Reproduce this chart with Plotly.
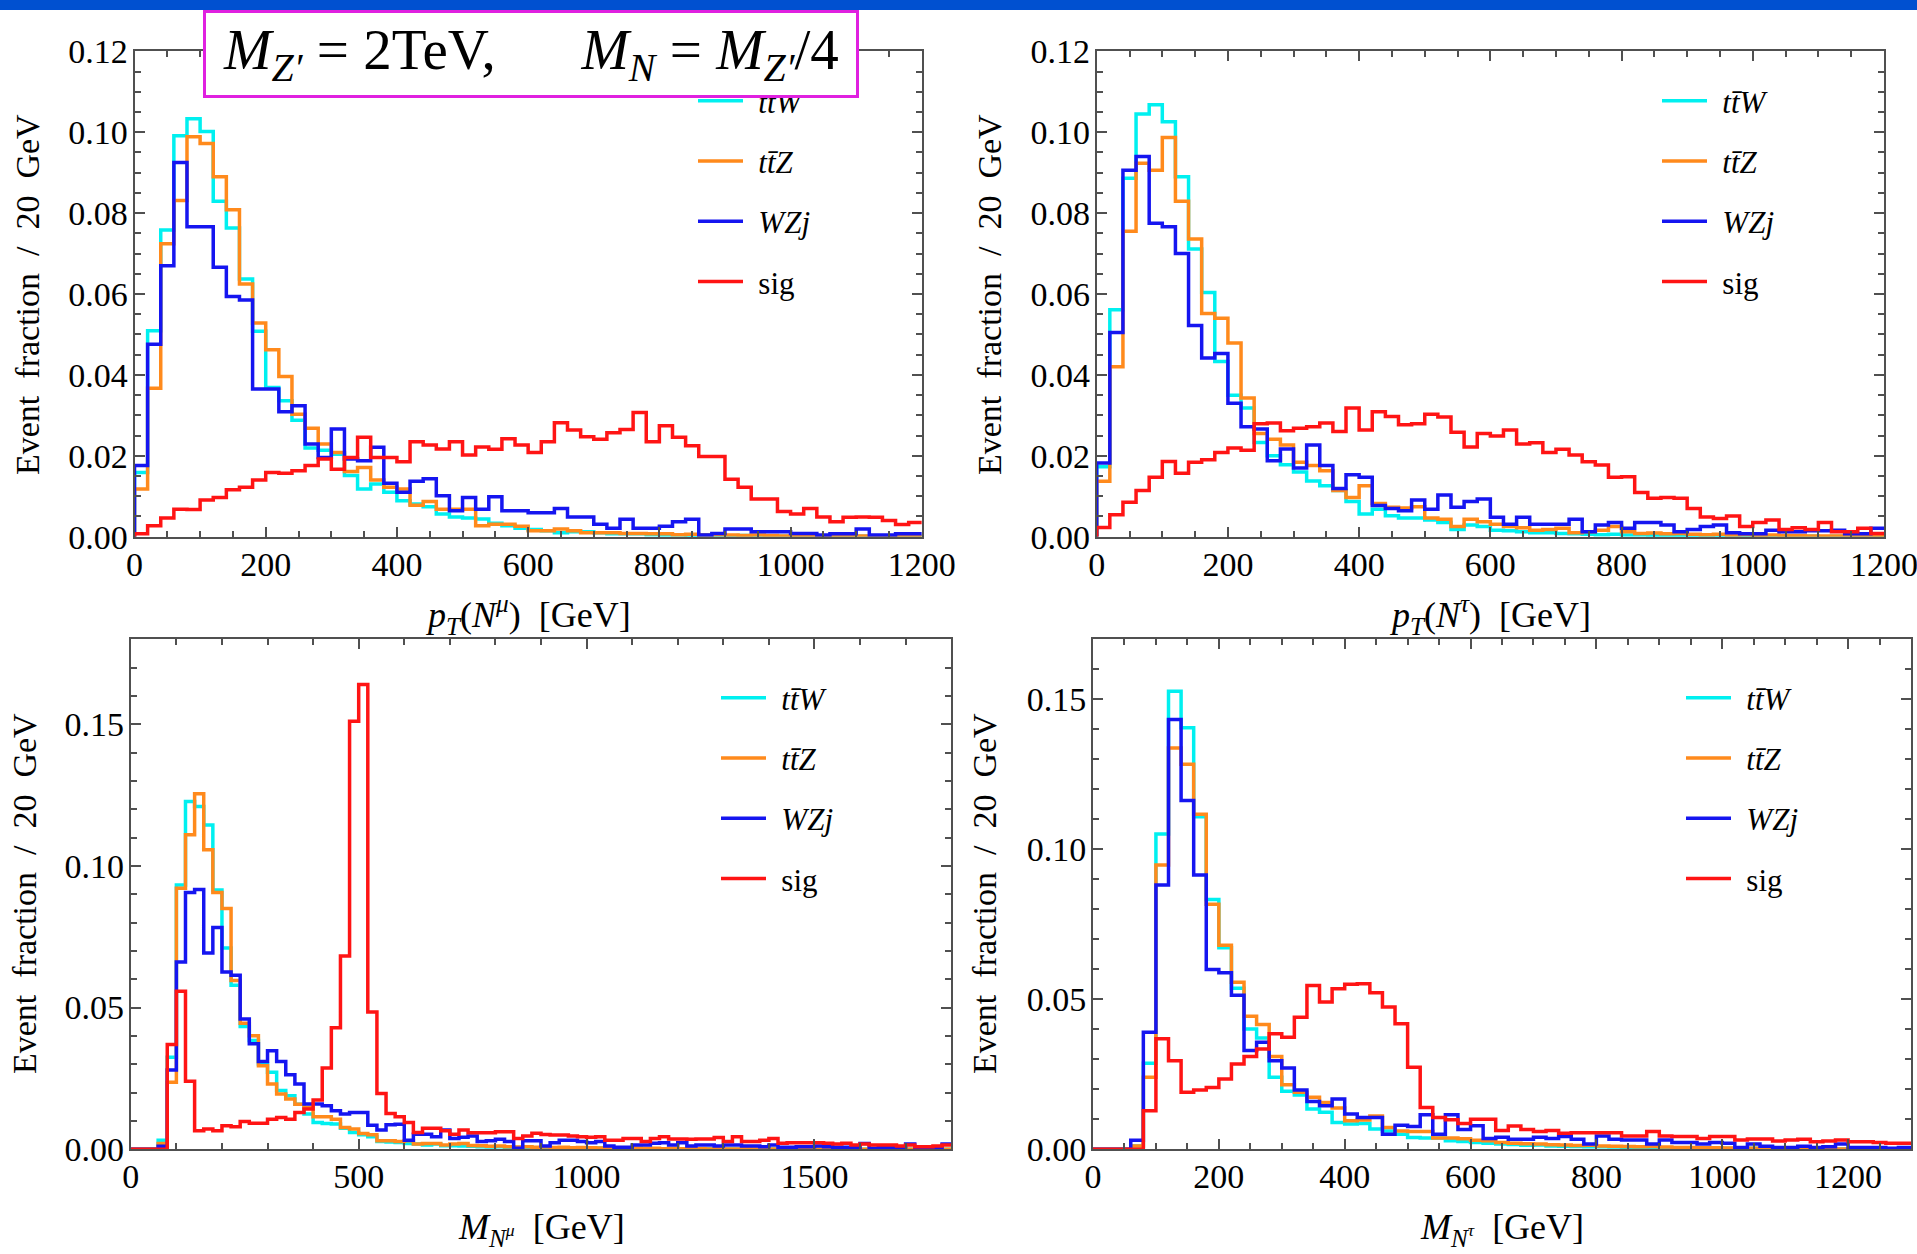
import numpy as np
import plotly.graph_objects as go

BIN_GEV = 20

labels = ["\u2004<i>tt\u0304W</i>", "\u2004<i>tt\u0304Z</i>", "\u2004<i>WZj</i>", "\u2004sig"]
colors = ["#00F0F0", "#FF8A1C", "#1515F0", "#FF1414"]

# ---------------- top-left: pT(N^mu), 0-1200 GeV ----------------
tl_ttW = [0.0159, 0.0509, 0.0758, 0.0991, 0.1033, 0.1002, 0.0829, 0.0763, 0.0637, 0.0508,
          0.0369, 0.0336, 0.0288, 0.0219, 0.0214, 0.0204, 0.0151, 0.0118, 0.0130, 0.0110,
          0.0089, 0.0081, 0.0074, 0.0056, 0.0049, 0.0046, 0.0044, 0.0033,
          0.0027, 0.0021, 0.0018, 0.0015, 0.0010, 0.0012, 0.0012, 0.0010, 0.0007, 0.0007,
          0.0007, 0.0005, 0.0004, 0.0004, 0.0003, 0.0004, 0.0003, 0.0002, 0.0003, 0.0002,
          0.0002, 0.0001, 0.0002, 0.0001, 0.0001, 0.0001, 0.0001, 0.0001, 0.0000, 0.0001,
          0.0000, 0.0000]
tl_ttZ = [0.0118, 0.0367, 0.0724, 0.0831, 0.0989, 0.0972, 0.0890, 0.0808, 0.0625, 0.0528,
          0.0462, 0.0396, 0.0303, 0.0268, 0.0229, 0.0208, 0.0161, 0.0171, 0.0140, 0.0122,
          0.0118, 0.0078, 0.0087, 0.0068, 0.0068, 0.0068, 0.0027, 0.0031,
          0.0031, 0.0026, 0.0015, 0.0015, 0.0019, 0.0015, 0.0010, 0.0010, 0.0010, 0.0008,
          0.0008, 0.0007, 0.0007, 0.0005, 0.0006, 0.0004, 0.0005, 0.0004, 0.0003, 0.0004,
          0.0003, 0.0002, 0.0003, 0.0002, 0.0002, 0.0002, 0.0001, 0.0002, 0.0001, 0.0001,
          0.0001, 0.0001]
tl_WZj = [0.0176, 0.0476, 0.0670, 0.0925, 0.0766, 0.0766, 0.0666, 0.0594, 0.0585, 0.0365,
          0.0365, 0.0309, 0.0324, 0.0229, 0.0196, 0.0266, 0.0192, 0.0188, 0.0221, 0.0132,
          0.0110, 0.0137, 0.0143, 0.0101, 0.0064, 0.0097, 0.0068, 0.0099,
          0.0064, 0.0064, 0.0059, 0.0059, 0.0070, 0.0049, 0.0049, 0.0031, 0.0021, 0.0043,
          0.0021, 0.0021, 0.0026, 0.0037, 0.0043, 0.0004, 0.0008, 0.0019, 0.0019, 0.0012,
          0.0012, 0.0012, 0.0008, 0.0008, 0.0004, 0.0007, 0.0007, 0.0019, 0.0004, 0.0004,
          0.0007, 0.0007]
tl_sig = [0.0007, 0.0027, 0.0046, 0.0068, 0.0067, 0.0091, 0.0097, 0.0116, 0.0122, 0.0140,
          0.0159, 0.0157, 0.0163, 0.0176, 0.0192, 0.0167, 0.0196, 0.0246, 0.0196, 0.0196,
          0.0185, 0.0235, 0.0227, 0.0217, 0.0235, 0.0202, 0.0222, 0.0216,
          0.0242, 0.0227, 0.0208, 0.0235, 0.0282, 0.0264, 0.0247, 0.0241, 0.0257, 0.0265,
          0.0307, 0.0235, 0.0274, 0.0246, 0.0225, 0.0198, 0.0198, 0.0142, 0.0122, 0.0093,
          0.0093, 0.0062, 0.0056, 0.0070, 0.0049, 0.0037, 0.0048, 0.0049, 0.0048, 0.0040,
          0.0030, 0.0035]

# ---------------- top-right: pT(N^tau), 0-1200 GeV ----------------
tr_ttW = [0.0173, 0.0561, 0.0886, 0.1045, 0.1068, 0.1026, 0.0890, 0.0711, 0.0604, 0.0433,
          0.0350, 0.0318, 0.0233, 0.0200, 0.0178, 0.0160, 0.0138, 0.0126, 0.0114, 0.0087,
          0.0056, 0.0068, 0.0052, 0.0046, 0.0046, 0.0041, 0.0035, 0.0018,
          0.0029, 0.0025, 0.0016, 0.0015, 0.0012, 0.0010, 0.0010, 0.0008, 0.0007, 0.0006,
          0.0005, 0.0006, 0.0004, 0.0004, 0.0003, 0.0003, 0.0003, 0.0002, 0.0002, 0.0002,
          0.0001, 0.0002, 0.0001, 0.0001, 0.0001, 0.0001, 0.0001, 0.0000, 0.0001, 0.0000,
          0.0000, 0.0000]
tr_ttZ = [0.0137, 0.0420, 0.0755, 0.0923, 0.0906, 0.0987, 0.0829, 0.0736, 0.0552, 0.0540,
          0.0479, 0.0343, 0.0255, 0.0241, 0.0227, 0.0184, 0.0176, 0.0163, 0.0114, 0.0097,
          0.0126, 0.0082, 0.0073, 0.0071, 0.0074, 0.0046, 0.0043, 0.0025,
          0.0043, 0.0037, 0.0031, 0.0025, 0.0022, 0.0016, 0.0018, 0.0021, 0.0010, 0.0012,
          0.0016, 0.0025, 0.0012, 0.0008, 0.0009, 0.0007, 0.0008, 0.0006, 0.0005, 0.0006,
          0.0004, 0.0005, 0.0003, 0.0004, 0.0003, 0.0003, 0.0002, 0.0002, 0.0002, 0.0001,
          0.0002, 0.0001]
tr_WZj = [0.0182, 0.0505, 0.0906, 0.0940, 0.0775, 0.0766, 0.0700, 0.0522, 0.0442, 0.0453,
          0.0330, 0.0272, 0.0266, 0.0188, 0.0217, 0.0170, 0.0227, 0.0176, 0.0119, 0.0153,
          0.0147, 0.0077, 0.0070, 0.0064, 0.0091, 0.0068, 0.0103, 0.0073,
          0.0087, 0.0093, 0.0048, 0.0031, 0.0048, 0.0031, 0.0031, 0.0031, 0.0043, 0.0012,
          0.0029, 0.0035, 0.0021, 0.0035, 0.0035, 0.0029, 0.0012, 0.0018, 0.0025, 0.0029,
          0.0010, 0.0007, 0.0007, 0.0016, 0.0012, 0.0012, 0.0015, 0.0015, 0.0016, 0.0007,
          0.0007, 0.0021]
tr_sig = [0.0023, 0.0054, 0.0085, 0.0114, 0.0147, 0.0186, 0.0157, 0.0184, 0.0190, 0.0208,
          0.0219, 0.0214, 0.0279, 0.0281, 0.0262, 0.0268, 0.0272, 0.0281, 0.0260, 0.0318,
          0.0264, 0.0309, 0.0297, 0.0277, 0.0279, 0.0303, 0.0296, 0.0258,
          0.0222, 0.0255, 0.0249, 0.0264, 0.0229, 0.0232, 0.0208, 0.0216, 0.0202, 0.0185,
          0.0177, 0.0147, 0.0148, 0.0109, 0.0095, 0.0097, 0.0095, 0.0070, 0.0049, 0.0045,
          0.0051, 0.0025, 0.0035, 0.0041, 0.0018, 0.0022, 0.0018, 0.0035, 0.0012, 0.0012,
          0.0021, 0.0008]

# ---------------- bottom-left: M_{N^mu}, 0-1800 GeV ----------------
bl_ttW = [0.0, 0.0, 0.0, 0.0032, 0.0325, 0.0933, 0.1228, 0.1210, 0.1145, 0.0915,
          0.0710, 0.0579, 0.0433, 0.0384, 0.0301, 0.0272, 0.0207, 0.0189, 0.0159, 0.0124,
          0.0094, 0.0091, 0.0089, 0.0074, 0.0059, 0.0051, 0.0044, 0.0027, 0.0025, 0.0024,
          0.0020, 0.0018, 0.0015, 0.0018, 0.0012, 0.0012,
          0.0011, 0.0010, 0.0009, 0.0008, 0.0009, 0.0007, 0.0006, 0.0007, 0.0005, 0.0006,
          0.0005, 0.0004, 0.0005, 0.0004, 0.0003, 0.0004, 0.0003, 0.0003, 0.0002, 0.0003,
          0.0002, 0.0002, 0.0002, 0.0001, 0.0002, 0.0001, 0.0001, 0.0002, 0.0001, 0.0001,
          0.0001, 0.0001, 0.0000, 0.0001, 0.0001, 0.0000, 0.0001, 0.0000, 0.0000, 0.0001,
          0.0000, 0.0000, 0.0000, 0.0001, 0.0000, 0.0000, 0.0000, 0.0000, 0.0000, 0.0000,
          0.0000, 0.0000, 0.0000, 0.0000]
bl_ttZ = [0.0, 0.0, 0.0, 0.0020, 0.0236, 0.0921, 0.1110, 0.1255, 0.1057, 0.0906,
          0.0850, 0.0596, 0.0445, 0.0401, 0.0295, 0.0230, 0.0195, 0.0177, 0.0159, 0.0148,
          0.0115, 0.0115, 0.0106, 0.0077, 0.0071, 0.0055, 0.0051, 0.0030, 0.0030, 0.0027,
          0.0030, 0.0018, 0.0020, 0.0020, 0.0015, 0.0018,
          0.0020, 0.0013, 0.0012, 0.0010, 0.0011, 0.0009, 0.0008, 0.0009, 0.0007, 0.0008,
          0.0006, 0.0007, 0.0005, 0.0006, 0.0005, 0.0004, 0.0005, 0.0004, 0.0003, 0.0004,
          0.0003, 0.0003, 0.0002, 0.0003, 0.0002, 0.0002, 0.0002, 0.0001, 0.0002, 0.0001,
          0.0001, 0.0002, 0.0001, 0.0001, 0.0001, 0.0001, 0.0000, 0.0001, 0.0001, 0.0000,
          0.0001, 0.0000, 0.0001, 0.0000, 0.0000, 0.0001, 0.0000, 0.0000, 0.0000, 0.0000,
          0.0000, 0.0000, 0.0000, 0.0000]
bl_WZj = [0.0, 0.0, 0.0, 0.0010, 0.0280, 0.0661, 0.0906, 0.0917, 0.0693, 0.0783,
          0.0626, 0.0614, 0.0460, 0.0372, 0.0310, 0.0348, 0.0310, 0.0263, 0.0230, 0.0160,
          0.0160, 0.0153, 0.0136, 0.0124, 0.0130, 0.0130, 0.0085, 0.0068, 0.0086, 0.0088,
          0.0032, 0.0053, 0.0053, 0.0044, 0.0068, 0.0038,
          0.0042, 0.0047, 0.0027, 0.0030, 0.0035, 0.0027, 0.0003, 0.0030, 0.0030, 0.0011,
          0.0023, 0.0032, 0.0032, 0.0027, 0.0023, 0.0027, 0.0011, 0.0007, 0.0007, 0.0015,
          0.0015, 0.0021, 0.0023, 0.0015, 0.0023, 0.0011, 0.0015, 0.0015, 0.0011, 0.0015,
          0.0015, 0.0011, 0.0011, 0.0009, 0.0015, 0.0007, 0.0007, 0.0009, 0.0009, 0.0011,
          0.0009, 0.0007, 0.0007, 0.0007, 0.0020, 0.0003, 0.0007, 0.0007, 0.0003, 0.0018,
          0.0007, 0.0007, 0.0007, 0.0018]
bl_sig = [0.0, 0.0, 0.0, 0.0, 0.0370, 0.0558, 0.0240, 0.0065, 0.0071, 0.0065,
          0.0083, 0.0079, 0.0098, 0.0092, 0.0092, 0.0106, 0.0112, 0.0106, 0.0130, 0.0142,
          0.0174, 0.0287, 0.0429, 0.0682, 0.1511, 0.1641, 0.0484, 0.0197, 0.0126, 0.0115,
          0.0094, 0.0059, 0.0074, 0.0074, 0.0065, 0.0053,
          0.0068, 0.0058, 0.0058, 0.0058, 0.0062, 0.0062, 0.0038, 0.0047, 0.0056, 0.0052,
          0.0050, 0.0050, 0.0047, 0.0044, 0.0042, 0.0044, 0.0032, 0.0032, 0.0038, 0.0038,
          0.0027, 0.0038, 0.0044, 0.0036, 0.0036, 0.0035, 0.0036, 0.0036, 0.0041, 0.0027,
          0.0044, 0.0027, 0.0027, 0.0032, 0.0038, 0.0021, 0.0023, 0.0023, 0.0023, 0.0023,
          0.0021, 0.0018, 0.0021, 0.0015, 0.0018, 0.0015, 0.0015, 0.0015, 0.0011, 0.0015,
          0.0009, 0.0009, 0.0011, 0.0015]

# ---------------- bottom-right: M_{N^tau}, 0-1300 GeV ----------------
br_ttW = [0.0, 0.0, 0.0, 0.0011, 0.0287, 0.1051, 0.1527, 0.1405, 0.1109, 0.0833,
          0.0672, 0.0537, 0.0401, 0.0371, 0.0240, 0.0193, 0.0181, 0.0134, 0.0123, 0.0089,
          0.0084, 0.0086, 0.0067, 0.0061, 0.0050, 0.0039, 0.0037, 0.0037, 0.0028, 0.0026,
          0.0022, 0.0020, 0.0017, 0.0016, 0.0013, 0.0014, 0.0011, 0.0010, 0.0009, 0.0008,
          0.0008, 0.0007, 0.0006, 0.0006, 0.0005, 0.0005, 0.0004, 0.0004, 0.0003, 0.0004,
          0.0003, 0.0002, 0.0003, 0.0002, 0.0002, 0.0001, 0.0002, 0.0001, 0.0001, 0.0001,
          0.0001, 0.0000, 0.0001, 0.0000, 0.0000]
br_ttZ = [0.0, 0.0, 0.0, 0.0011, 0.0240, 0.0948, 0.1338, 0.1284, 0.1117, 0.0817,
          0.0680, 0.0557, 0.0443, 0.0416, 0.0309, 0.0215, 0.0190, 0.0173, 0.0156, 0.0137,
          0.0095, 0.0097, 0.0111, 0.0072, 0.0061, 0.0059, 0.0059, 0.0037, 0.0037, 0.0035,
          0.0030, 0.0028, 0.0022, 0.0020, 0.0018, 0.0017, 0.0015, 0.0014, 0.0012, 0.0013,
          0.0011, 0.0010, 0.0009, 0.0008, 0.0009, 0.0007, 0.0006, 0.0006, 0.0005, 0.0005,
          0.0004, 0.0004, 0.0003, 0.0003, 0.0003, 0.0002, 0.0002, 0.0002, 0.0002, 0.0001,
          0.0001, 0.0001, 0.0001, 0.0001, 0.0000]
br_WZj = [0.0, 0.0, 0.0, 0.0030, 0.0390, 0.0881, 0.1433, 0.1163, 0.0914, 0.0599,
          0.0588, 0.0513, 0.0329, 0.0357, 0.0295, 0.0271, 0.0197, 0.0159, 0.0145, 0.0167,
          0.0117, 0.0106, 0.0106, 0.0050, 0.0080, 0.0076, 0.0115, 0.0050, 0.0115, 0.0066,
          0.0078, 0.0036, 0.0040, 0.0033, 0.0033, 0.0040, 0.0036, 0.0042, 0.0033, 0.0017,
          0.0044, 0.0033, 0.0031, 0.0031, 0.0017, 0.0031, 0.0022, 0.0022, 0.0017, 0.0022,
          0.0020, 0.0006, 0.0017, 0.0010, 0.0006, 0.0006, 0.0010, 0.0006, 0.0008, 0.0017,
          0.0006, 0.0006, 0.0006, 0.0003, 0.0006]
br_sig = [0.0, 0.0, 0.0, 0.0, 0.0128, 0.0368, 0.0295, 0.0190, 0.0197, 0.0206,
          0.0234, 0.0284, 0.0309, 0.0334, 0.0385, 0.0373, 0.0440, 0.0546, 0.0491, 0.0535,
          0.0550, 0.0552, 0.0522, 0.0474, 0.0418, 0.0273, 0.0139, 0.0106, 0.0098, 0.0086,
          0.0100, 0.0100, 0.0062, 0.0077, 0.0066, 0.0059, 0.0062, 0.0053, 0.0055, 0.0055,
          0.0055, 0.0055, 0.0044, 0.0044, 0.0059, 0.0044, 0.0042, 0.0042, 0.0036, 0.0042,
          0.0042, 0.0031, 0.0034, 0.0034, 0.0027, 0.0031, 0.0033, 0.0025, 0.0027, 0.0031,
          0.0025, 0.0025, 0.0022, 0.0020, 0.0020]

# tick values
tl_xticks = [0, 200, 400, 600, 800, 1000, 1200]
tl_yticks = [0.00, 0.02, 0.04, 0.06, 0.08, 0.10, 0.12]
bl_xticks = [0, 500, 1000, 1500]
bl_yticks = [0.00, 0.05, 0.10, 0.15]
br_xticks = [0, 200, 400, 600, 800, 1000, 1200]
br_yticks = [0.00, 0.05, 0.10, 0.15]

x_titles = ["<i>p</i><sub><i>T</i></sub>(<i>N</i><sup><i>\u03bc</i></sup>)\u2002[GeV]",
            "<i>p</i><sub><i>T</i></sub>(<i>N</i><sup><i>\u03c4</i></sup>)\u2002[GeV]",
            "<i>M</i><sub><i>N</i><sup><i>\u03bc</i></sup></sub>\u2002[GeV]",
            "<i>M</i><sub><i>N</i><sup><i>\u03c4</i></sup></sub>\u2002[GeV]"]
y_title = "Event\u2002fraction\u2002/\u200220\u2002GeV"

FONT = "Liberation Serif, DejaVu Serif, serif"
AX = "#505050"
W, H = 1917, 1254

panels = [
    dict(xa="x", ya="y", leg="legend", data=[tl_ttW, tl_ttZ, tl_WZj, tl_sig],
         xdom=(134.5, 921.8), ydom=(51.3, 536.7), xr=1200, yr=0.12,
         xt=tl_xticks, yt=tl_yticks, xminor=50, yminor=0.005,
         leg_xy=(693, 74), xt_xy=(528, 615), yt_xy=(27, 295)),
    dict(xa="x2", ya="y2", leg="legend2", data=[tr_ttW, tr_ttZ, tr_WZj, tr_sig],
         xdom=(1096.7, 1884.0), ydom=(51.3, 536.7), xr=1200, yr=0.12,
         xt=tl_xticks, yt=tl_yticks, xminor=50, yminor=0.005,
         leg_xy=(1657, 74), xt_xy=(1490, 615), yt_xy=(989, 295)),
    dict(xa="x3", ya="y3", leg="legend3", data=[bl_ttW, bl_ttZ, bl_WZj, bl_sig],
         xdom=(130.8, 951.2), ydom=(639.4, 1149.2), xr=1800, yr=0.18,
         xt=bl_xticks, yt=bl_yticks, xminor=100, yminor=0.01,
         leg_xy=(716, 671), xt_xy=(541, 1229), yt_xy=(25, 894)),
    dict(xa="x4", ya="y4", leg="legend4", data=[br_ttW, br_ttZ, br_WZj, br_sig],
         xdom=(1093.0, 1911.0), ydom=(639.4, 1149.2), xr=1300, yr=0.17,
         xt=br_xticks, yt=br_yticks, xminor=50, yminor=0.01,
         leg_xy=(1681, 671), xt_xy=(1502, 1229), yt_xy=(985, 894)),
]

fig = go.Figure()
layout = dict(width=W, height=H,
              margin=dict(l=0, r=0, t=0, b=0, pad=0, autoexpand=False),
              paper_bgcolor="white", plot_bgcolor="white",
              font=dict(family=FONT, size=34, color="black"))
annotations = []

for pi, p in enumerate(panels):
    for si, vals in enumerate(p["data"]):
        n = len(vals)
        edges = np.arange(n + 1) * BIN_GEV
        xs = [float(edges[0])] + [float(e) for e in edges[:-1]] + [float(edges[-1])]
        ys = [0.0] + list(vals) + [vals[-1]]
        fig.add_trace(go.Scatter(
            x=xs, y=ys, mode="lines", name=labels[si],
            line=dict(shape="hv", color=colors[si], width=3.5),
            xaxis=p["xa"], yaxis=p["ya"], legend=p["leg"],
            legendgroup=f"{pi}-{si}", showlegend=True, hoverinfo="skip"))
    xname = "xaxis" if p["xa"] == "x" else "xaxis" + p["xa"][1:]
    yname = "yaxis" if p["ya"] == "y" else "yaxis" + p["ya"][1:]
    common = dict(showline=True, linecolor=AX, linewidth=2, mirror="allticks",
                  ticks="inside", ticklen=10, tickwidth=1.5, tickcolor=AX,
                  showgrid=False, zeroline=False, automargin=False,
                  ticklabeloverflow="allow",
                  tickfont=dict(family=FONT, size=34, color="black"))
    layout[xname] = dict(common, domain=[p["xdom"][0] / W, p["xdom"][1] / W],
                         range=[0, p["xr"]], anchor=p["ya"], tickvals=p["xt"],
                         ticktext=[str(v) for v in p["xt"]], ticklabelstandoff=-4,
                         minor=dict(dtick=p["xminor"], ticks="inside", ticklen=6,
                                    tickwidth=1.5, tickcolor=AX, showgrid=False))
    layout[yname] = dict(common, domain=[1 - p["ydom"][1] / H, 1 - p["ydom"][0] / H],
                         range=[0, p["yr"]], anchor=p["xa"], tickvals=p["yt"],
                         ticktext=[f"{v:.2f}" for v in p["yt"]], ticklabelstandoff=-2,
                         minor=dict(dtick=p["yminor"], ticks="inside", ticklen=6,
                                    tickwidth=1.5, tickcolor=AX, showgrid=False))
    layout[p["leg"]] = dict(x=p["leg_xy"][0] / W, y=1 - p["leg_xy"][1] / H,
                            xanchor="left", yanchor="top", bgcolor="rgba(0,0,0,0)",
                            font=dict(family=FONT, size=31, color="black"),
                            tracegroupgap=17, itemwidth=45, traceorder="grouped")
    annotations.append(dict(text=x_titles[pi], x=p["xt_xy"][0] / W, y=1 - p["xt_xy"][1] / H,
                            xref="paper", yref="paper", showarrow=False,
                            xanchor="center", yanchor="middle",
                            font=dict(family=FONT, size=36, color="black")))
    annotations.append(dict(text=y_title, x=p["yt_xy"][0] / W, y=1 - p["yt_xy"][1] / H,
                            xref="paper", yref="paper", showarrow=False, textangle=-90,
                            xanchor="center", yanchor="middle",
                            font=dict(family=FONT, size=34, color="black")))

# title box (drawn last so it sits above the first legend, as in the original)
annotations.append(dict(
    text="<i>M</i><sub><i>Z\u2032</i></sub> = 2TeV,\u2003\u2002<i>M</i><sub><i>N</i></sub> = <i>M</i><sub><i>Z\u2032</i></sub>/4",
    x=531 / W, y=1 - 53.8 / H, xref="paper", yref="paper", showarrow=False,
    xanchor="center", yanchor="middle", width=650, height=82,
    bgcolor="white", bordercolor="#E020E0", borderwidth=3, borderpad=0,
    font=dict(family=FONT, size=57, color="black")))

layout["annotations"] = annotations
layout["shapes"] = [dict(type="rect", xref="paper", yref="paper", x0=0, x1=1,
                         y0=1 - 10 / H, y1=1, fillcolor="#0050D0",
                         line=dict(width=0), layer="above")]
fig.update_layout(**layout)
fig.write_html("out.html", post_script="document.body.style.margin='0px';")
